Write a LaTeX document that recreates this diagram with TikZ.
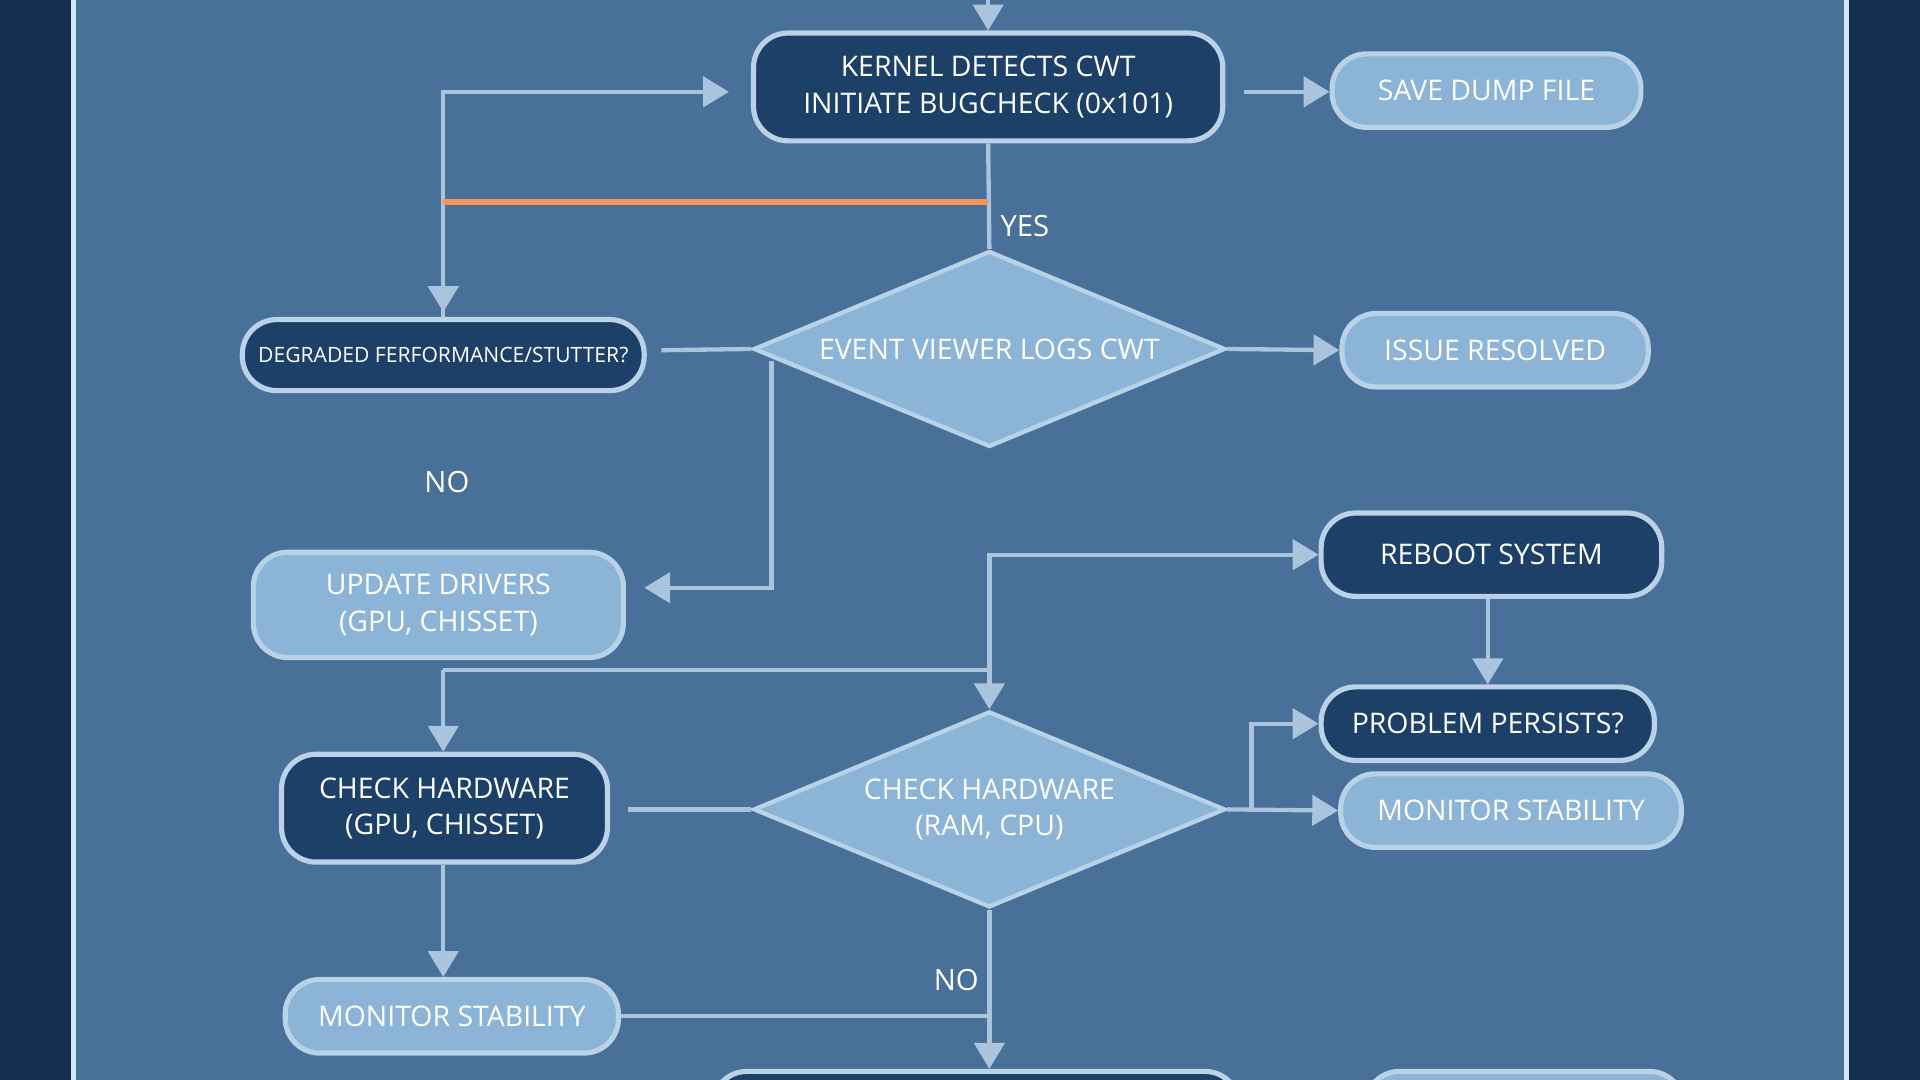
\documentclass[tikz,border=0pt]{standalone}
\usepackage{fontspec}
\setmainfont{Open Sans}
\usetikzlibrary{shapes.geometric,arrows.meta,calc}
\definecolor{bgdark}{RGB}{22,48,82}
\definecolor{panel}{RGB}{72,112,152}
\definecolor{boxdark}{RGB}{28,64,104}
\definecolor{boxlight}{RGB}{140,180,214}
\definecolor{edge}{RGB}{185,210,232}
\definecolor{wire}{RGB}{170,196,222}
\definecolor{hot}{RGB}{240,150,90}
\tikzset{
  box/.style = {rectangle, rounded corners=8pt, draw=edge, line width=1.2pt,
    text=white, align=center, font=\fontsize{6.6}{8.4}\selectfont},
  dark/.style = {box, fill=boxdark},
  light/.style = {box, fill=boxlight},
  dia/.style = {diamond, aspect=2.4, fill=boxlight, draw=edge, line width=1pt,
    text=white, align=center, font=\fontsize{6.6}{8.4}\selectfont, inner sep=0pt},
  wire/.style = {draw=wire, line width=1pt},
  arr/.style = {wire, -{Triangle[length=6pt,width=7pt]}},
  lbl/.style = {text=white, font=\fontsize{6.8}{8}\selectfont}
}
\begin{document}
\begin{tikzpicture}[x=0.01cm, y=-0.01cm]
\useasboundingbox (0,0) rectangle (1568,882);
\fill[bgdark] (0,0) rectangle (1568,882);
\fill[panel] (60,-5) rectangle (1508,890);
\draw[edge!60, line width=1pt] (60,-5) -- (60,890) (1508,-5) -- (1508,890);
% nodes
\node[dark, minimum width=3.83cm, minimum height=0.88cm] (kern) at (807,71) {KERNEL DETECTS CWT\\INITIATE BUGCHECK (0x101)};
\node[light, minimum width=2.52cm, minimum height=0.6cm] (dump) at (1214,74) {SAVE DUMP FILE};
\node[dark, minimum width=3.28cm, minimum height=0.58cm, inner xsep=1pt, font=\fontsize{4.9}{6}\selectfont] (perf) at (362,290) {DEGRADED FERFORMANCE/STUTTER?};
\node[dia, minimum width=3.85cm, minimum height=1.6cm] (logs) at (808,285) {EVENT VIEWER LOGS CWT};
\node[light, minimum width=2.5cm, minimum height=0.6cm] (done) at (1221,286) {ISSUE RESOLVED};
\node[light, minimum width=3.02cm, minimum height=0.86cm] (drv) at (358,494) {UPDATE DRIVERS\\(GPU, CHISSET)};
\node[dark, minimum width=2.78cm, minimum height=0.68cm] (boot) at (1218,453) {REBOOT SYSTEM};
\node[dark, minimum width=2.72cm, minimum height=0.6cm] (pers) at (1215,591) {PROBLEM PERSISTS?};
\node[light, minimum width=2.78cm, minimum height=0.6cm] (monr) at (1234,662) {MONITOR STABILITY};
\node[dark, minimum width=2.66cm, minimum height=0.88cm] (hwl) at (363,660) {CHECK HARDWARE\\(GPU, CHISSET)};
\node[dia, minimum width=3.85cm, minimum height=1.6cm] (hwd) at (808,661) {CHECK HARDWARE\\(RAM, CPU)};
\node[light, minimum width=2.72cm, minimum height=0.6cm] (monl) at (369,830) {MONITOR STABILITY};
\node[dark, minimum width=4.3cm, minimum height=0.6cm] (botl) at (797,905) {};
\node[light, minimum width=2.6cm, minimum height=0.6cm] (botr) at (1245,905) {};
\node[lbl] (yes) at (837,185) {YES};
\node[lbl] (no1) at (365,394) {NO};
\node[lbl] (no2) at (781,800) {NO};
% connectors
\coordinate (top) at (807,-5);
\coordinate (tl) at (362,75);
\coordinate (hot) at (362,165);
\coordinate (mid) at (808,547);
\coordinate (ml) at (362,547);
\coordinate (fork) at (1022,661);
\draw[arr] (top) -- (kern.north);
\draw[arr] ($(kern.east)+(15,4)$) -- (dump.west |- 0,75);
\draw[arr] (perf.north) -- (tl) -- ($(kern.west)+(-18,4)$);
\draw[arr] (tl) -- ($(perf.north)+(0,-4)$);
\draw[wire] (kern.south) -- (logs.north);
\draw[hot, line width=1.5pt] (kern.south |- hot) -- (hot);
\draw[wire] ($(perf.east)+(12,-4)$) -- (logs.west);
\draw[arr] (logs.east) -- (done.west);
\draw[arr] (630,295) |- ($(drv.east)+(15,-14)$);
\draw[arr] (mid) |- (boot.west);
\draw[arr] (pers.north |- boot.south) -- (pers.north);
\draw[wire] (ml) -- (mid);
\draw[arr] (ml) -- (ml |- hwl.north);
\draw[arr] (mid) -- (hwd.north);
\draw[wire] ($(hwl.east)+(15,1)$) -- (hwd.west);
\draw[arr] (hwd.east) -- (monr.west);
\draw[arr] (fork) |- (pers.west);
\draw[arr] (ml |- hwl.south) -- (ml |- monl.north);
\draw[wire] (monl.east) -- (808,830);
\draw[arr] (hwd.south) -- (hwd.south |- botl.north);
\end{tikzpicture}
\end{document}
